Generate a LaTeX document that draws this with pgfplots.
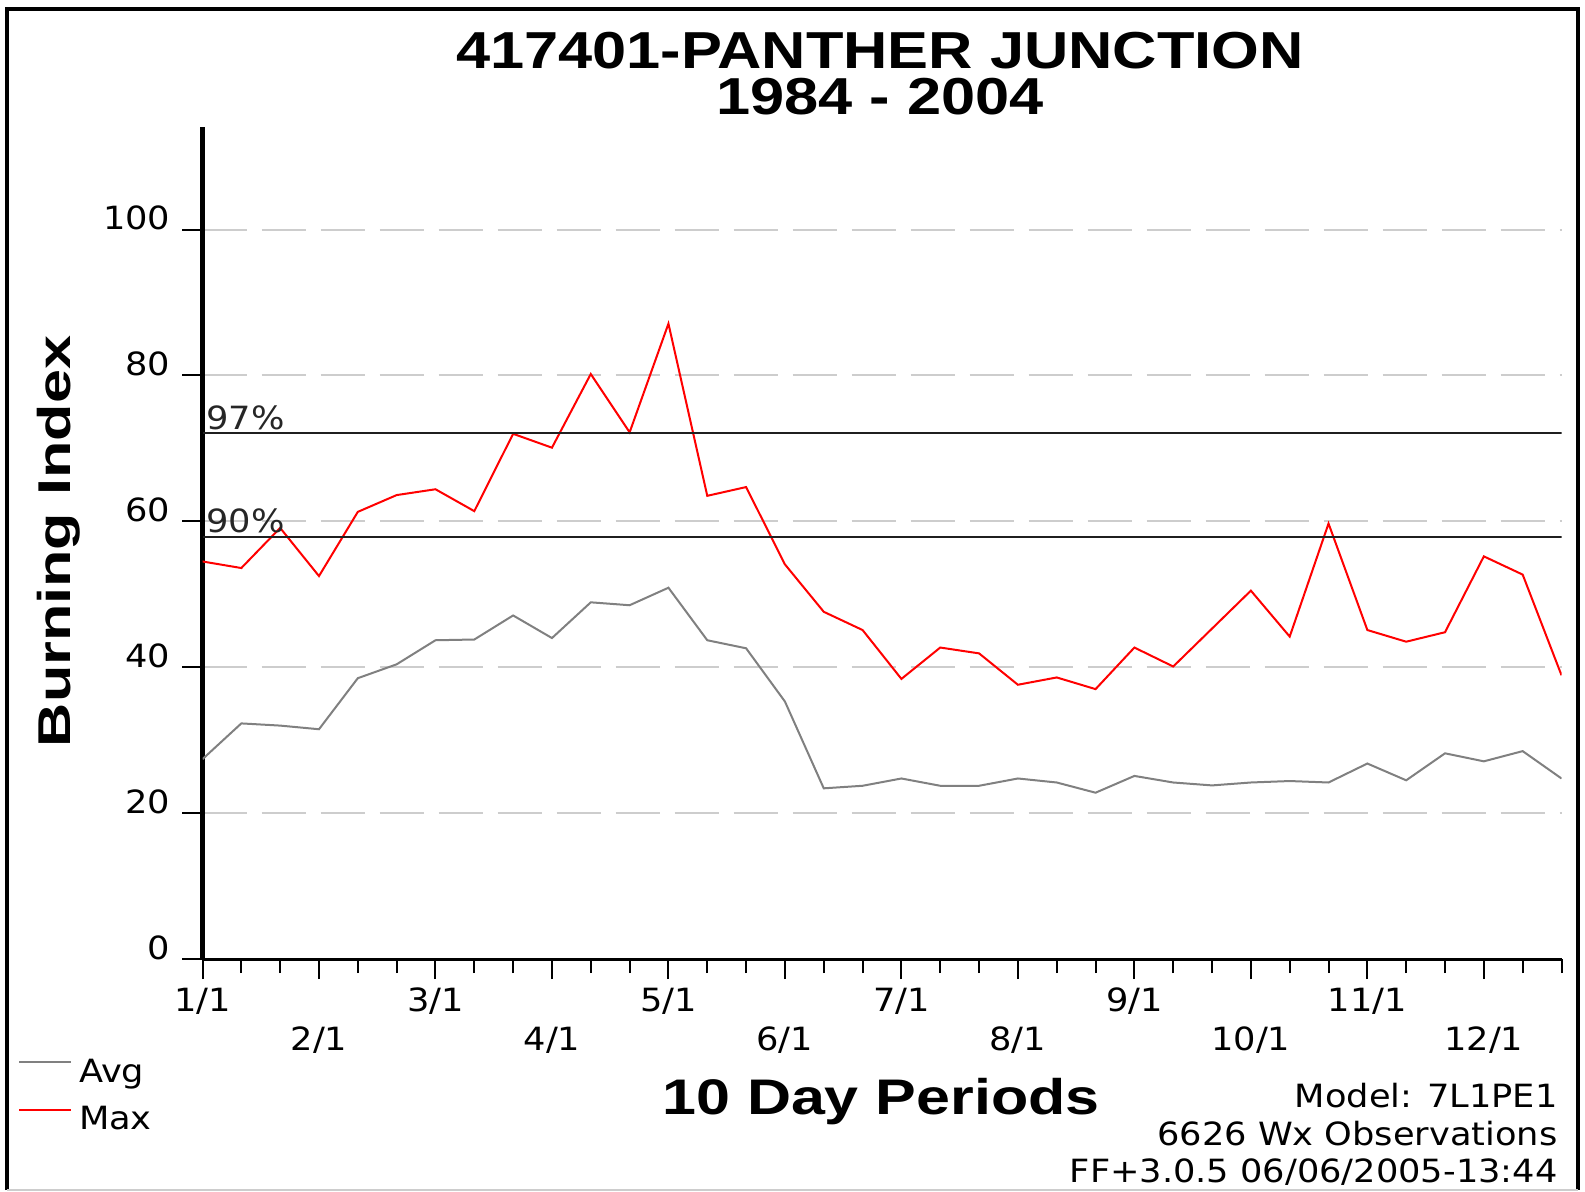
\documentclass[border=0pt]{standalone}
\usepackage{fontspec}
\usepackage{pgfplots}
\usepackage{pgfplotstable}
\pgfplotsset{compat=1.18}
\newfontfamily\smallfontfam[FakeStretch=1.1]{DejaVu Sans}
\newfontfamily\titlefontfam[FakeStretch=1.18]{Liberation Sans}
\newfontfamily\ylabfontfam[FakeStretch=1.33]{Liberation Sans}
\newfontfamily\xlabfontfam[FakeStretch=1.22]{Liberation Sans}
\newcommand\sm{\smallfontfam\fontsize{16pt}{19pt}\selectfont}
\newcommand\bigb{\titlefontfam\bfseries\fontsize{26pt}{23.35pt}\selectfont}
\newcommand\ylabf{\ylabfontfam\bfseries\fontsize{23pt}{27pt}\selectfont}
\newcommand\xlabf{\xlabfontfam\bfseries\fontsize{25pt}{29pt}\selectfont}
\definecolor{avggray}{RGB}{128,128,128}
\definecolor{gridgray}{RGB}{205,205,205}
\definecolor{maxred}{RGB}{255,0,0}

\pgfplotstableread{
i v
0 54.5
1 53.6
2 59.1
3 52.5
4 61.3
5 63.6
6 64.4
7 61.4
8 72.0
9 70.1
10 80.2
11 72.2
12 87.1
13 63.5
14 64.7
15 54.1
16 47.6
17 45.1
18 38.4
19 42.7
20 41.9
21 37.6
22 38.6
23 37.0
24 42.7
25 40.1
26 45.3
27 50.5
28 44.2
29 59.7
30 45.1
31 43.5
32 44.8
33 55.2
34 52.7
35 38.9
}\maxdata

\pgfplotstableread{
i v
0 27.4
1 32.3
2 32.0
3 31.5
4 38.5
5 40.4
6 43.7
7 43.8
8 47.1
9 44.0
10 48.9
11 48.5
12 50.9
13 43.7
14 42.6
15 35.3
16 23.4
17 23.75
18 24.75
19 23.75
20 23.75
21 24.75
22 24.2
23 22.8
24 25.1
25 24.2
26 23.8
27 24.2
28 24.4
29 24.2
30 26.8
31 24.5
32 28.2
33 27.1
34 28.5
35 24.75
}\avgdata

\begin{document}
\begin{tikzpicture}
\path[use as bounding box] (0pt,0pt) rectangle (792.5pt,-595.5pt);
\draw[line width=1.6pt] (3.5pt,-595pt) -- (3.5pt,-4.5pt) -- (789pt,-4.5pt) -- (789pt,-595pt);
\draw[gridgray, line width=0.6pt] (3.5pt,-595pt) -- (789pt,-595pt);
\begin{axis}[
  at={(101.25pt,-479.5pt)}, anchor=south west,
  scale only axis, width=679.5pt, height=416.15pt,
  xmin=0, xmax=35, ymin=0, ymax=114.1,
  axis lines=left, axis line style={-},
  x axis line style={line width=1.5pt},
  y axis line style={line width=2.3pt},
  xtick={0,3,...,33},
  minor xtick={1,2,4,5,7,8,10,11,13,14,16,17,19,20,22,23,25,26,28,29,31,32,34,35},
  xticklabels={1/1,{\raisebox{-19.7pt}{2/1}},3/1,{\raisebox{-19.7pt}{4/1}},5/1,{\raisebox{-19.7pt}{6/1}},7/1,{\raisebox{-19.7pt}{8/1}},9/1,{\raisebox{-19.7pt}{10/1}},11/1,{\raisebox{-19.7pt}{12/1}}},
  ytick={0,20,40,60,80,100},
  yticklabels={0,20,40,60,80,100},
  tick align=outside,
  major tick length=10pt, minor tick length=7pt,
  tick style={black, line width=1pt},
  xticklabel style={font=\sm, anchor=base, inner sep=0pt, yshift=-16.15pt},
  yticklabel style={font=\sm, anchor=base east, inner sep=0pt, xshift=-5.9pt},
  /pgf/number format/assume math mode=true,
  ymajorgrids,
  major grid style={gridgray, line width=1pt, dash pattern=on 22pt off 7.5pt},
  legend style={at={(axis description cs:-0.13576,-0.1192)}, anchor=north west,
    draw=none, fill=none, inner sep=0pt, outer sep=0pt,
    row sep=9.65pt, column sep=3.5pt, font=\sm,
    nodes={inner sep=0pt, text height=12pt, text depth=2pt}},
  legend cell align=left,
  legend image code/.code={\draw[#1] (0pt,5pt) -- (26pt,5pt);},
]
\addplot[avggray, line width=1pt] table[x=i, y=v] {\avgdata};
\addlegendentry{Avg}
\addplot[maxred, line width=1pt] table[x=i, y=v] {\maxdata};
\addlegendentry{Max}
\addplot[black!88, line width=1pt, forget plot] coordinates {(0,72.1) (35,72.1)};
\addplot[black!88, line width=1pt, forget plot] coordinates {(0,57.9) (35,57.9)};
\node[anchor=base west, inner sep=0pt, font=\sm, text=black!85] at (axis cs:0,72.1) [xshift=1.75pt, yshift=2pt] {97\%};
\node[anchor=base west, inner sep=0pt, font=\sm, text=black!85] at (axis cs:0,57.9) [xshift=1.75pt, yshift=2pt] {90\%};
\end{axis}
\node[anchor=north, align=center, inner sep=0pt, font=\bigb] at (440pt,-15.75pt) {417401-PANTHER JUNCTION\\1984 - 2004};
\node[anchor=base, inner sep=0pt, font=\ylabf, rotate=90] at (35pt,-270.75pt) {Burning Index};
\node[anchor=base, inner sep=0pt, font=\xlabf] at (440.5pt,-557pt) {10 Day Periods};
\node[anchor=base east, inner sep=0pt, font=\sm] at (779pt,-553.5pt) {Model: 7L1PE1};
\node[anchor=base east, inner sep=0pt, font=\sm] at (779pt,-572.5pt) {6626 Wx Observations};
\node[anchor=base east, inner sep=0pt, font=\sm] at (779pt,-591pt) {FF+3.0.5 06/06/2005-13:44};
\end{tikzpicture}
\end{document}
